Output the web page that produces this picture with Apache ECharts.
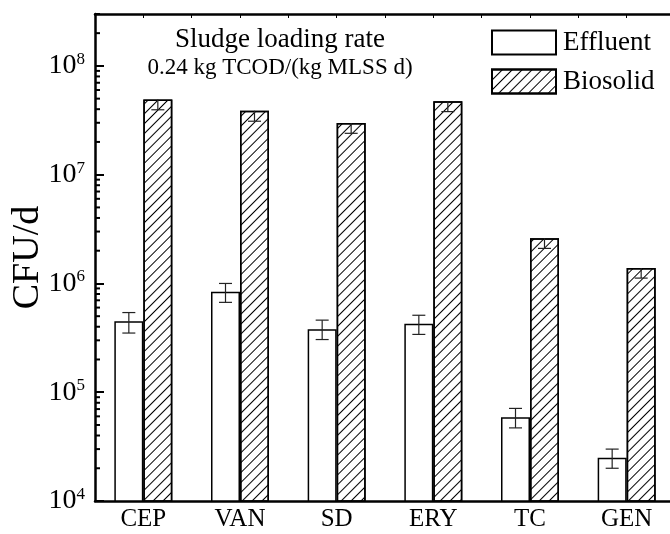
<!DOCTYPE html>
<html><head><meta charset="utf-8">
<script src="https://cdn.jsdelivr.net/npm/echarts@6/dist/echarts.min.js"></script>
<style>html,body{margin:0;padding:0;background:#fff}#c{width:670px;height:534px}</style>
</head><body><div id="c"></div>
<script>
const categories = ['CEP','VAN','SD','ERY','TC','GEN'];
const effluent = [4.5e5, 8.4e5, 3.8e5, 4.25e5, 5.9e4, 2.5e4];
const effluentLow = [3.5e5, 6.7e5, 3.05e5, 3.4e5, 4.7e4, 2.0e4];
const effluentHigh = [5.4e5, 1.0e6, 4.6e5, 5.1e5, 7.1e4, 3.0e4];
const biosolid = [4.9e7, 3.87e7, 2.99e7, 4.72e7, 2.61e6, 1.39e6];
const biosolidLow = [3.95e7, 3.1e7, 2.4e7, 3.8e7, 2.1e6, 1.12e6];
const decades = [1e4, 1e5, 1e6, 1e7, 1e8];
const minorMultipliers = [2,3,4,5,6,7,8,9];
const yMin = 1e4, yMax = 3e8;

const minorTicks = [];
decades.forEach(d => minorMultipliers.forEach(m => { if (d*m <= yMax) minorTicks.push(d*m); }));

const FONT = 'Liberation Serif';
const chart = echarts.init(document.getElementById('c'));

function errRender(offsetFrac, withTop) {
  return function(params, api) {
    const idx = api.value(0);
    const bw = api.size([1, 0])[0];
    const x = api.coord([idx, 0])[0] + bw * offsetFrac;
    const yTop = api.coord([idx, api.value(1)])[1];
    const yLow = api.coord([idx, api.value(2)])[1];
    const half = 6.5;
    const st = {stroke: '#222', lineWidth: 1.2};
    const ch = [
      {type: 'line', shape: {x1: x, y1: yTop, x2: x, y2: yLow}, style: st},
      {type: 'line', shape: {x1: x - half, y1: yLow, x2: x + half, y2: yLow}, style: st}
    ];
    if (withTop) ch.push({type: 'line', shape: {x1: x - half, y1: yTop, x2: x + half, y2: yTop}, style: st});
    return {type: 'group', children: ch};
  };
}

chart.setOption({
  animation: false,
  backgroundColor: '#fff',
  title: {
    text: 'Sludge loading rate',
    subtext: '0.24 kg TCOD/(kg MLSS d)',
    left: 280, top: 26, textAlign: 'center', itemGap: 3, padding: 0,
    textStyle: {fontFamily: FONT, fontSize: 27, fontWeight: 'normal', color: '#000'},
    subtextStyle: {fontFamily: FONT, fontSize: 23, color: '#000'}
  },
  legend: {
    orient: 'vertical', left: 491, top: 29, itemWidth: 64, itemHeight: 24, itemGap: 12, padding: 0,
    icon: 'rect',
    textStyle: {fontFamily: FONT, fontSize: 27, color: '#000', padding: [0, 0, 0, 2]},
    data: ['Effluent', 'Biosolid']
  },
  grid: {left: 95, right: -5, top: 14, bottom: 33, containLabel: false, outerBoundsMode: 'none'},
  xAxis: [{
    type: 'category', data: categories,
    axisLine: {lineStyle: {color: '#000', width: 2.5}},
    axisTick: {inside: true, length: 5, lineStyle: {color: '#000', width: 1.5}},
    axisLabel: {fontFamily: FONT, fontSize: 25, color: '#000', margin: 6}
  }, {
    type: 'value', position: 'top', min: 0, max: 6, interval: 0.5,
    axisLine: {show: true, lineStyle: {color: '#000', width: 2.5}},
    axisTick: {show: true, inside: true, length: 4, lineStyle: {color: '#000', width: 1}},
    axisLabel: {show: false}, splitLine: {show: false}
  }],
  yAxis: {
    type: 'log', logBase: 10, min: yMin, max: yMax,
    name: 'CFU/d', nameLocation: 'middle', nameGap: 48, nameRotate: 90, nameMoveOverlap: false,
    nameTextStyle: {fontFamily: FONT, fontSize: 38, color: '#000'},
    axisLine: {show: true, lineStyle: {color: '#000', width: 2.5}},
    axisTick: {inside: true, length: 9, lineStyle: {color: '#000', width: 2}},
    splitLine: {show: false},
    axisLabel: {
      margin: 10, color: '#000', fontFamily: FONT, fontSize: 28,
      formatter: v => { const e = Math.round(Math.log10(v)); return (Math.abs(Math.log10(v) - e) < 1e-6) ? '10{sup|' + e + '}' : ''; },
      rich: {sup: {fontFamily: FONT, fontSize: 17, verticalAlign: 'top', padding: [0,0,13,0], color: '#000'}},
      showMaxLabel: false
    }
  },
  series: [{
    name: 'Effluent', type: 'bar', data: effluent, barWidth: '30%', barGap: '0%',
    itemStyle: {color: '#fff', borderColor: '#000', borderWidth: 1.5}
  }, {
    name: 'Biosolid', type: 'bar', data: biosolid, barWidth: '30%', barGap: '0%',
    itemStyle: {color: '#fff', borderColor: '#000', borderWidth: 1.5,
      decal: {symbol: 'rect', symbolSize: 1, color: '#000', dashArrayX: [1, 0], dashArrayY: [1, 6], rotation: -Math.PI / 4}}
  }, {
    type: 'custom', renderItem: errRender(-0.15, true), z: 5,
    data: categories.map((c, i) => [i, effluentHigh[i], effluentLow[i]]),
    encode: {x: 0, y: [1, 2]}, silent: true
  }, {
    type: 'custom', renderItem: errRender(0.15, false), z: 5,
    data: categories.map((c, i) => [i, biosolid[i], biosolidLow[i]]),
    encode: {x: 0, y: [1, 2]}, silent: true
  }, {
    type: 'custom', silent: true, z: 6,
    renderItem: (params, api) => {
      const y = api.coord([0, api.value(0)])[1];
      const x = params.coordSys.x;
      return {type: 'line', shape: {x1: x, y1: y, x2: x + 5, y2: y}, style: {stroke: '#000', lineWidth: 2}};
    },
    data: minorTicks.map(v => [v]), encode: {y: 0}
  }]
});
</script></body></html>
